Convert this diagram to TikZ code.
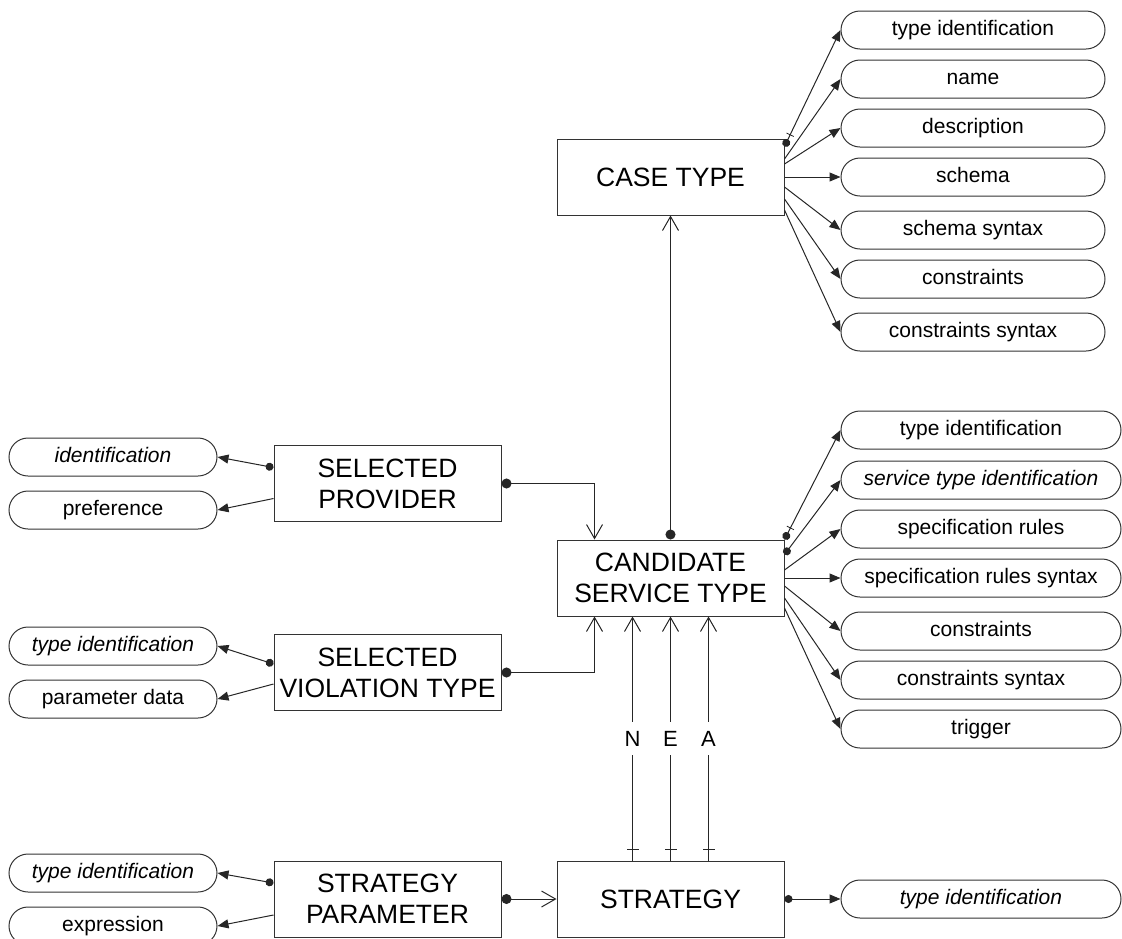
\documentclass[tikz,border=0pt]{standalone}
\usepackage{fontspec}
\setmainfont{Liberation Sans}
\usetikzlibrary{arrows.meta, positioning, calc, decorations.markings}

\tikzset{
  entity/.style={draw=black!80, line width=1pt, minimum width=227pt, minimum height=76pt, inner sep=0pt, align=center, font=\fontsize{26.5}{31}\selectfont},
  attr/.style={draw=black!80, line width=1pt, rounded corners=19pt, minimum height=38pt, inner sep=0pt, text height=15pt, text depth=4.5pt, font=\fontsize{21}{25}\selectfont},
  link/.style={line width=1pt, draw=black!85},
  has/.style={link, arrows={-Triangle[length=11pt, width=9pt]}},
  hasdot/.style={link, arrows={Circle[length=8pt]-Triangle[length=11pt, width=9pt]}},
  hasid/.style={hasdot, postaction={decorate}, decoration={markings, mark=at position 13pt with {\draw[-, line width=0.8pt] (0pt,-4pt) -- (0pt,4pt);}}},
  rel/.style={link, arrows={Circle[length=10pt]-Straight Barb[length=14pt, width=16pt]}},
  ref/.style={link, arrows={-Straight Barb[length=14pt, width=16pt]}, postaction={decorate}, decoration={markings, mark=at position 11pt with {\draw[-] (0pt,-6pt) -- (0pt,6pt);}}},
  lbl/.style={fill=white, inner sep=9pt, font=\fontsize{22}{26}\selectfont}
}

\begin{document}
\begin{tikzpicture}[x=1pt, y=-1pt]
  \useasboundingbox (0,0) rectangle (1122,938);
  \clip (0,0) rectangle (1122,938);

  % entities
  \node[entity] (casetype) at (670.5,177) {CASE TYPE};
  \node[entity] (cand) at (670.5,578) {CANDIDATE\\SERVICE TYPE};
  \node[entity] (strat) at (670.5,899) {STRATEGY};
  \node[entity] (sprov) at (387.5,483.5) {SELECTED\\PROVIDER};
  \node[entity] (sviol) at (387.5,672.5) {SELECTED\\VIOLATION TYPE};
  \node[entity] (sparam) at (387.5,899) {STRATEGY\\PARAMETER};

  % attributes of case type
  \node[attr, minimum width=264pt] (ct1) at (973,30) {type identification};
  \node[attr, minimum width=264pt] (ct2) at (973,79) {name};
  \node[attr, minimum width=264pt] (ct3) at (973,128) {description};
  \node[attr, minimum width=264pt] (ct4) at (973,177) {schema};
  \node[attr, minimum width=264pt] (ct5) at (973,230) {schema syntax};
  \node[attr, minimum width=264pt] (ct6) at (973,279) {constraints};
  \node[attr, minimum width=264pt] (ct7) at (973,332) {constraints syntax};

  % attributes of candidate service type
  \node[attr, minimum width=280pt] (cs1) at (981,430) {type identification};
  \node[attr, minimum width=280pt] (cs2) at (981,480) {\textit{service type identification}};
  \node[attr, minimum width=280pt] (cs3) at (981,529) {specification rules};
  \node[attr, minimum width=280pt] (cs4) at (981,578) {specification rules syntax};
  \node[attr, minimum width=280pt] (cs5) at (981,631) {constraints};
  \node[attr, minimum width=280pt] (cs6) at (981,680) {constraints syntax};
  \node[attr, minimum width=280pt] (cs7) at (981,729) {trigger};

  \node[attr, minimum width=280pt] (st1) at (981,899) {\textit{type identification}};

  % attributes on the left
  \node[attr, minimum width=208pt] (pv1) at (113,457) {\textit{identification}};
  \node[attr, minimum width=208pt] (pv2) at (113,510) {preference};
  \node[attr, minimum width=208pt] (vt1) at (113,646) {\textit{type identification}};
  \node[attr, minimum width=208pt] (vt2) at (113,699) {parameter data};
  \node[attr, minimum width=208pt] (sp1) at (113,873) {\textit{type identification}};
  \node[attr, minimum width=208pt] (sp2) at (113,926) {expression};

  % case type fan
  \draw[hasid] ([yshift=-8pt]casetype.north east) -- (ct1.west);
  \draw[has] ([yshift=18pt]casetype.east) -- (ct2.west);
  \draw[has] ([yshift=13pt]casetype.east) -- (ct3.west);
  \draw[has] (casetype.east) -- (ct4.west);
  \draw[has] ([yshift=-10pt]casetype.east) -- (ct5.west);
  \draw[has] ([yshift=-22pt]casetype.east) -- (ct6.west);
  \draw[has] ([yshift=-33pt]casetype.east) -- (ct7.west);

  % candidate service type fan
  \draw[hasid] (cand.north east) -- (cs1.west);
  \draw[hasdot] ([yshift=-15pt]cand.north east) -- (cs2.west);
  \draw[has] ([yshift=8pt]cand.east) -- (cs3.west);
  \draw[has] (cand.east) -- (cs4.west);
  \draw[has] ([yshift=-8pt]cand.east) -- (cs5.west);
  \draw[has] ([yshift=-20pt]cand.east) -- (cs6.west);
  \draw[has] ([yshift=-30pt]cand.east) -- (cs7.west);

  \draw[hasdot] (strat.east) -- (st1.west);

  % left fans
  \draw[hasdot] ([yshift=16pt]sprov.west) -- (pv1.east);
  \draw[has] ([yshift=-15pt]sprov.west) -- (pv2.east);
  \draw[hasdot] ([yshift=8.5pt]sviol.west) -- (vt1.east);
  \draw[has] ([yshift=-11.5pt]sviol.west) -- (vt2.east);
  \draw[hasdot] ([yshift=16pt]sparam.west) -- (sp1.east);
  \draw[has] ([yshift=-16pt]sparam.west) -- (sp2.east);

  % relations
  \draw[rel] (cand.north) -- (casetype.south);
  \draw[rel] (sprov.east) -| ([xshift=-76pt]cand.north);
  \draw[rel] (sviol.east) -| ([xshift=-76pt]cand.south);
  \draw[rel] (sparam.east) -- (strat.west);
  \draw[ref] ([xshift=-38pt]strat.north) -- node[lbl] {N} ([xshift=-38pt]cand.south);
  \draw[ref] (strat.north) -- node[lbl] {E} (cand.south);
  \draw[ref] ([xshift=38pt]strat.north) -- node[lbl] {A} ([xshift=38pt]cand.south);
\end{tikzpicture}
\end{document}
